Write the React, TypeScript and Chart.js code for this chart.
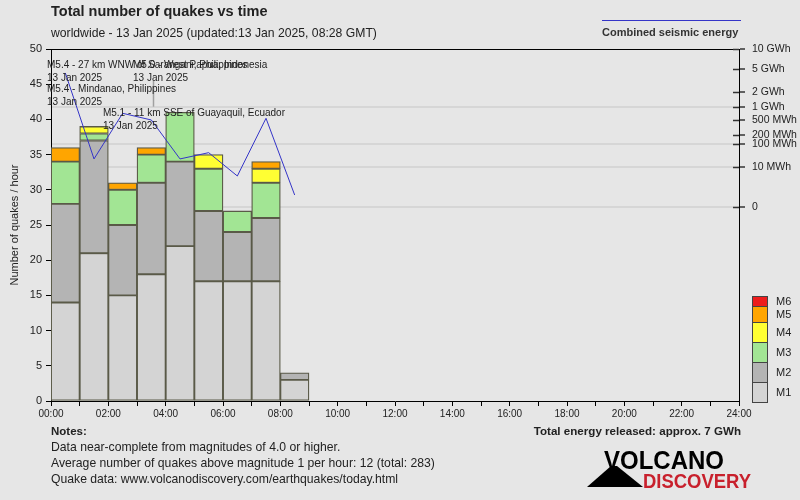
import React, { useEffect, useRef } from "react";
import { Chart, registerables } from "chart.js";
Chart.register(...registerables);

// ---- data ----
const hours = [0, 1, 2, 3, 4, 5, 6, 7, 8];
const m1 = [14, 21, 15, 18, 22, 17, 17, 17, 3];
const m2 = [14, 16, 10, 13, 12, 10, 7, 9, 1];
const m3 = [6, 1, 5, 4, 7, 6, 3, 5, 0];
const m4 = [0, 1, 0, 0, 0, 2, 0, 2, 0];
const m5 = [2, 0, 1, 1, 0, 0, 0, 1, 0];
const m6 = [0, 0, 0, 0, 0, 0, 0, 0, 0];
const energyMWh = [4390, 26, 733, 506, 26, 48, 2.9, 557, 0.025];
const energyTickValues = [0, 10, 100, 200, 500, 1000, 2000, 5000, 10000];
const energyTickLabels = ["0", "10 MWh", "100 MWh", "200 MWh", "500 MWh", "1 GWh", "2 GWh", "5 GWh", "10 GWh"];
const energyGridValues = [0, 10, 100, 1000];
const xTickLabels = ["00:00", "02:00", "04:00", "06:00", "08:00", "10:00", "12:00", "14:00", "16:00", "18:00", "20:00", "22:00", "24:00"];
const magnitudeLabels = ["M1", "M2", "M3", "M4", "M5", "M6"];
const magnitudeColors = ["#d4d4d4", "#b4b4b4", "#a2e594", "#ffff33", "#ffa500", "#ee1c1c"];
const quakeNotes = [
  { hour: -0.14, value: 47.7, lines: ["M5.4 - 27 km WNW of Sarangani, Philippines", "13 Jan 2025"] },
  { hour: 2.86, value: 47.7, lines: ["M5.0 - West Papua, Indonesia", "13 Jan 2025"] },
  { hour: -0.14, value: 44.3, lines: ["M5.4 - Mindanao, Philippines", "13 Jan 2025"] },
  { hour: 1.81, value: 40.9, lines: ["M5.1 - 11 km SSE of Guayaquil, Ecuador", "13 Jan 2025"] },
];
const quakeMarkers = [{ hour: 3.56, from: 45.5, to: 41.8 }];
const titleText = "Total number of quakes vs time";
const subtitleText = "worldwide - 13 Jan 2025 (updated:13 Jan 2025, 08:28 GMT)";
const energyLegendText = "Combined seismic energy";
const notesTitle = "Notes:";
const notesLines = [
  "Data near-complete from magnitudes of 4.0 or higher.",
  "Average number of quakes above magnitude 1 per hour: 12 (total: 283)",
  "Quake data: www.volcanodiscovery.com/earthquakes/today.html",
];
const totalEnergyText = "Total energy released: approx. 7 GWh";

const FONT = '"Liberation Sans", Arial, sans-serif';
const TEXT = "#222";
const toEnergyAxis = (v: number) => Math.pow(v, 0.2);

const seriesByMag = [m1, m2, m3, m4, m5, m6];

const overlay = {
  id: "overlay",
  beforeDraw(chart: any) {
    const ctx = chart.ctx;
    ctx.save();
    ctx.fillStyle = "#e6e6e6";
    ctx.fillRect(0, 0, chart.width, chart.height);
    ctx.restore();
  },
  afterDatasetsDraw(chart: any) {
    const ctx = chart.ctx;
    const xs = chart.scales.x;
    const ys = chart.scales.y;
    ctx.save();
    ctx.strokeStyle = "#a0a0a0";
    ctx.lineWidth = 1.5;
    quakeMarkers.forEach((m) => {
      const x = Math.round(xs.getPixelForValue(m.hour)) + 0.5;
      ctx.beginPath();
      ctx.moveTo(x, ys.getPixelForValue(m.from));
      ctx.lineTo(x, ys.getPixelForValue(m.to));
      ctx.stroke();
    });
    ctx.fillStyle = TEXT;
    ctx.font = `10px ${FONT}`;
    ctx.textBaseline = "middle";
    ctx.textAlign = "left";
    quakeNotes.forEach((n) => {
      const x = xs.getPixelForValue(n.hour);
      const y = ys.getPixelForValue(n.value);
      n.lines.forEach((l, i) => ctx.fillText(l, x, y + i * 13));
    });
    ctx.restore();
  },
  afterDraw(chart: any) {
    const ctx = chart.ctx;
    const area = chart.chartArea;
    const y2 = chart.scales.y2;
    ctx.save();
    // top border
    ctx.strokeStyle = "#000";
    ctx.lineWidth = 1;
    ctx.beginPath();
    ctx.moveTo(area.left, area.top + 0.5);
    ctx.lineTo(area.right, area.top + 0.5);
    ctx.stroke();
    // inner half of right axis ticks
    ctx.strokeStyle = "#333";
    ctx.lineWidth = 1.5;
    energyTickValues.forEach((v) => {
      const y = Math.round(y2.getPixelForValue(toEnergyAxis(v))) + 0.5;
      ctx.beginPath();
      ctx.moveTo(area.right - 6, y);
      ctx.lineTo(area.right, y);
      ctx.stroke();
    });

    ctx.textBaseline = "middle";
    ctx.textAlign = "left";
    ctx.fillStyle = TEXT;
    ctx.font = `bold 14.5px ${FONT}`;
    ctx.fillText(titleText, 51, 12);
    ctx.font = `12.2px ${FONT}`;
    ctx.fillText(subtitleText, 51, 34);

    // energy legend
    ctx.strokeStyle = "#3535c8";
    ctx.lineWidth = 1;
    ctx.beginPath();
    ctx.moveTo(602, 20.5);
    ctx.lineTo(741, 20.5);
    ctx.stroke();
    ctx.font = `bold 11px ${FONT}`;
    ctx.fillStyle = "#333";
    ctx.fillText(energyLegendText, 602, 33);

    // magnitude legend
    const boxes = [
      [382, 402], [362, 382], [342, 362], [322, 342], [306, 322], [296, 306],
    ];
    ctx.font = `11px ${FONT}`;
    magnitudeLabels.forEach((lab, i) => {
      const [t, b] = boxes[i];
      ctx.fillStyle = magnitudeColors[i];
      ctx.fillRect(752, t, 16, b - t);
      ctx.strokeStyle = "#444";
      ctx.lineWidth = 1;
      ctx.strokeRect(752.5, t + 0.5, 15, b - t);
      ctx.fillStyle = TEXT;
      ctx.fillText(lab, 776, (t + b) / 2 + 0.5);
    });

    // notes
    ctx.fillStyle = TEXT;
    ctx.font = `bold 11.5px ${FONT}`;
    ctx.fillText(notesTitle, 51, 432);
    ctx.font = `12.2px ${FONT}`;
    notesLines.forEach((l, i) => ctx.fillText(l, 51, 447.5 + i * 16));
    ctx.font = `bold 11.6px ${FONT}`;
    ctx.textAlign = "right";
    ctx.fillText(totalEnergyText, 741, 432);

    // logo
    ctx.fillStyle = "#000";
    ctx.beginPath();
    ctx.moveTo(587, 487);
    ctx.lineTo(611, 466);
    ctx.lineTo(617, 466);
    ctx.lineTo(643, 487);
    ctx.closePath();
    ctx.fill();
    const fitText = (s: string, x: number, base: number, w: number, size: number, color: string) => {
      ctx.font = `bold ${size}px ${FONT}`;
      const mw = ctx.measureText(s).width;
      ctx.save();
      ctx.translate(x, base);
      ctx.scale(w / mw, 1);
      ctx.fillStyle = color;
      ctx.textAlign = "left";
      ctx.textBaseline = "alphabetic";
      ctx.fillText(s, 0, 0);
      ctx.restore();
    };
    fitText("VOLCANO", 604, 469, 120, 26, "#000");
    fitText("DISCOVERY", 643, 488, 108, 21, "#c8202c");
    ctx.restore();
  },
};

export default function App() {
  const ref = useRef<HTMLCanvasElement>(null);
  useEffect(() => {
    const barSets = seriesByMag.map((arr, i) => ({
      type: "bar" as const,
      label: magnitudeLabels[i],
      data: arr.map((v, j) => ({ x: hours[j] + 0.5, y: v === 0 ? null : v })),
      backgroundColor: magnitudeColors[i],
      borderColor: "#5a5a48",
      borderWidth: 1.3,
      borderSkipped: false,
      barPercentage: 1,
      categoryPercentage: 1,
      yAxisID: "y",
      order: 1,
    }));
    const lineSet = {
      type: "line" as const,
      label: "energy",
      data: energyMWh.map((v, j) => ({ x: hours[j] + 0.5, y: toEnergyAxis(v) })),
      borderColor: "#3535c8",
      borderWidth: 1,
      pointRadius: 0,
      fill: false,
      tension: 0,
      yAxisID: "y2",
      order: 0,
    };
    const chart = new Chart(ref.current as HTMLCanvasElement, {
      type: "bar",
      data: { datasets: [...barSets, lineSet] as any },
      options: {
        responsive: false,
        animation: false,
        devicePixelRatio: 1,
        layout: { padding: { top: 49, left: 0, right: 0, bottom: 0 } },
        plugins: { legend: { display: false }, tooltip: { enabled: false } },
        scales: {
          x: {
            type: "linear",
            min: 0,
            max: 24,
            offset: false,
            stacked: true,
            afterFit: (s: any) => { s.height = 99; },
            afterBuildTicks: (s: any) => {
              s.ticks = Array.from({ length: 25 }, (_, i) => ({ value: i }));
            },
            grid: { offset: false, drawOnChartArea: false, tickLength: 5, tickColor: "#000", tickWidth: 1 },
            border: { color: "#000", width: 1 },
            ticks: {
              autoSkip: false,
              maxRotation: 0,
              padding: 2,
              color: "#222",
              font: { family: FONT, size: 10 },
              callback: (v: any) => (Number(v) % 2 === 0 ? xTickLabels[Number(v) / 2] : ""),
            },
          },
          y: {
            position: "left",
            min: 0,
            max: 50,
            stacked: true,
            afterFit: (s: any) => { s.width = 51; },
            grid: { drawOnChartArea: false, tickLength: 5, tickColor: "#000" },
            border: { color: "#000", width: 1 },
            ticks: { stepSize: 5, padding: 4, color: "#222", font: { family: FONT, size: 11 } },
            title: {
              display: true,
              text: "Number of quakes / hour",
              color: "#222",
              font: { family: FONT, size: 11 },
              padding: { top: 8, bottom: 0 },
            },
          },
          y2: {
            position: "right",
            min: -7.75,
            max: toEnergyAxis(10000),
            afterFit: (s: any) => { s.width = 61; },
            afterBuildTicks: (s: any) => {
              s.ticks = energyTickValues.map((v) => ({ value: toEnergyAxis(v) }));
            },
            grid: {
              drawOnChartArea: true,
              tickLength: 6,
              tickColor: "#333",
              tickWidth: 1.5,
              lineWidth: 2,
              color: (c: any) => {
                const idx = c.index;
                const v = energyTickValues[idx];
                return energyGridValues.includes(v) ? "#d6d6d6" : "rgba(0,0,0,0)";
              },
            },
            border: { color: "#000", width: 1 },
            ticks: {
              autoSkip: false,
              padding: 7,
              color: "#222",
              font: { family: FONT, size: 10.5 },
              callback: (_v: any, i: number) => energyTickLabels[i],
            },
          },
        },
      },
      plugins: [overlay],
    } as any);
    return () => chart.destroy();
  }, []);
  return (
    <div style={{ position: "fixed", left: 0, top: 0, width: 800, height: 500 }}>
      <canvas ref={ref} width={800} height={500} style={{ display: "block" }} />
    </div>
  );
}
